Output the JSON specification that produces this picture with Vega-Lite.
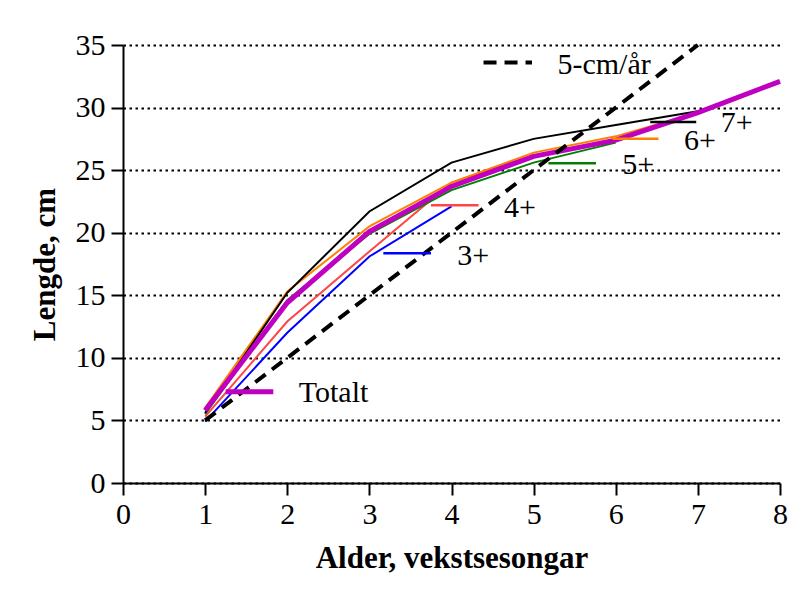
{
  "$schema": "https://vega.github.io/schema/vega-lite/v6.json",
  "width": 657,
  "height": 438,
  "autosize": {"type": "none"},
  "padding": {"left": 123, "top": 45, "right": 28, "bottom": 108},
  "background": "white",
  "config": {
    "view": {"stroke": null},
    "font": "Liberation Serif, Times New Roman, serif",
    "axis": {
      "domainColor": "black",
      "domainWidth": 2,
      "tickColor": "black",
      "tickWidth": 2,
      "tickSize": 12,
      "labelFlush": false,
      "labelFont": "Liberation Serif, Times New Roman, serif",
      "labelFontSize": 30,
      "labelColor": "black",
      "titleFont": "Liberation Serif, Times New Roman, serif",
      "titleFontSize": 31,
      "titleFontWeight": "bold",
      "titleColor": "black"
    }
  },
  "datasets": {
    "series": [
      {"grp": "3+", "alder": 1, "lengde": 4.9},
      {"grp": "3+", "alder": 2, "lengde": 12.0},
      {"grp": "3+", "alder": 3, "lengde": 18.1},
      {"grp": "3+", "alder": 4, "lengde": 22.1},
      {"grp": "4+", "alder": 1, "lengde": 5.3},
      {"grp": "4+", "alder": 2, "lengde": 12.9},
      {"grp": "4+", "alder": 3, "lengde": 18.5},
      {"grp": "4+", "alder": 4, "lengde": 24.0},
      {"grp": "4+", "alder": 5, "lengde": 26.2},
      {"grp": "5+", "alder": 1, "lengde": 5.5},
      {"grp": "5+", "alder": 2, "lengde": 14.6},
      {"grp": "5+", "alder": 3, "lengde": 19.9},
      {"grp": "5+", "alder": 4, "lengde": 23.4},
      {"grp": "5+", "alder": 5, "lengde": 25.6},
      {"grp": "5+", "alder": 6, "lengde": 27.2},
      {"grp": "6+", "alder": 1, "lengde": 6.0},
      {"grp": "6+", "alder": 2, "lengde": 15.3},
      {"grp": "6+", "alder": 3, "lengde": 20.5},
      {"grp": "6+", "alder": 4, "lengde": 24.0},
      {"grp": "6+", "alder": 5, "lengde": 26.4},
      {"grp": "6+", "alder": 6, "lengde": 27.7},
      {"grp": "6+", "alder": 7, "lengde": 29.6},
      {"grp": "7+", "alder": 1, "lengde": 5.6},
      {"grp": "7+", "alder": 2, "lengde": 15.2},
      {"grp": "7+", "alder": 3, "lengde": 21.7},
      {"grp": "7+", "alder": 4, "lengde": 25.6},
      {"grp": "7+", "alder": 5, "lengde": 27.5},
      {"grp": "7+", "alder": 6, "lengde": 28.6},
      {"grp": "7+", "alder": 7, "lengde": 29.7},
      {"grp": "Totalt", "alder": 1, "lengde": 5.8},
      {"grp": "Totalt", "alder": 2, "lengde": 14.4},
      {"grp": "Totalt", "alder": 3, "lengde": 20.1},
      {"grp": "Totalt", "alder": 4, "lengde": 23.7},
      {"grp": "Totalt", "alder": 5, "lengde": 26.1},
      {"grp": "Totalt", "alder": 6, "lengde": 27.4},
      {"grp": "Totalt", "alder": 7, "lengde": 29.6},
      {"grp": "Totalt", "alder": 8, "lengde": 32.1}
    ],
    "ref": [
      {"alder": 1, "lengde": 5},
      {"alder": 7, "lengde": 35}
    ],
    "marks": [
      {"grp": "3+", "x1": 3.17, "x2": 3.75, "y": 18.36, "tx": 4.07, "ty": 18.1},
      {"grp": "4+", "x1": 3.75, "x2": 4.33, "y": 22.2, "tx": 4.64, "ty": 22.0},
      {"grp": "5+", "x1": 5.18, "x2": 5.76, "y": 25.56, "tx": 6.08, "ty": 25.4},
      {"grp": "6+", "x1": 5.96, "x2": 6.52, "y": 27.5, "tx": 6.83, "ty": 27.3},
      {"grp": "7+", "x1": 6.42, "x2": 6.98, "y": 28.84, "tx": 7.28, "ty": 28.8},
      {"grp": "Totalt", "x1": 1.25, "x2": 1.83, "y": 7.29, "tx": 2.14, "ty": 7.2}
    ],
    "refmark": [
      {"x1": 4.39, "x2": 4.98, "y": 33.6, "tx": 5.29, "ty": 33.4, "lbl": "5-cm/år"}
    ]
  },
  "layer": [
    {
      "data": {"name": "series"},
      "transform": [{"filter": "datum.grp !== 'Totalt'"}],
      "mark": {"type": "line", "strokeWidth": 2},
      "encoding": {
        "x": {"field": "alder", "type": "quantitative",
              "scale": {"domain": [0, 8], "nice": false},
              "axis": {"values": [0,1,2,3,4,5,6,7,8], "format": "d", "grid": false, "title": "Alder, vekstsesongar", "labelPadding": 4, "titlePadding": 14}},
        "y": {"field": "lengde", "type": "quantitative",
              "scale": {"domain": [0, 35], "nice": false},
              "axis": {"values": [0,5,10,15,20,25,30,35], "format": "d", "grid": true, "gridColor": "black", "gridDash": [2.5, 3.5], "gridWidth": 2, "gridOpacity": 1, "title": "Lengde, cm", "labelPadding": 6, "titlePadding": 14}},
        "color": {"field": "grp", "type": "nominal", "legend": null,
                  "scale": {"domain": ["3+", "4+", "5+", "6+", "7+", "Totalt"],
                            "range": ["#0000ff", "#ff4545", "#008000", "#ff8000", "#000000", "#c000c0"]}},
        "order": {"field": "alder", "type": "quantitative"}
      }
    },
    {
      "data": {"name": "series"},
      "transform": [{"filter": "datum.grp === 'Totalt'"}],
      "mark": {"type": "line", "strokeWidth": 5},
      "encoding": {
        "x": {"field": "alder", "type": "quantitative"},
        "y": {"field": "lengde", "type": "quantitative"},
        "color": {"field": "grp", "type": "nominal", "legend": null}
      }
    },
    {
      "data": {"name": "ref"},
      "mark": {"type": "line", "strokeWidth": 4, "strokeDash": [13, 8], "color": "black"},
      "encoding": {
        "x": {"field": "alder", "type": "quantitative"},
        "y": {"field": "lengde", "type": "quantitative"}
      }
    },
    {
      "data": {"name": "marks"},
      "mark": {"type": "rule"},
      "encoding": {
        "x": {"field": "x1", "type": "quantitative"},
        "x2": {"field": "x2"},
        "y": {"field": "y", "type": "quantitative"},
        "color": {"field": "grp", "type": "nominal", "legend": null},
        "strokeWidth": {"condition": {"test": "datum.grp === 'Totalt'", "value": 5}, "value": 2.5}
      }
    },
    {
      "data": {"name": "marks"},
      "mark": {"type": "text", "align": "left", "baseline": "middle", "font": "Liberation Serif, Times New Roman, serif", "fontSize": 30, "color": "black"},
      "encoding": {
        "x": {"field": "tx", "type": "quantitative"},
        "y": {"field": "ty", "type": "quantitative"},
        "text": {"field": "grp"}
      }
    },
    {
      "data": {"name": "refmark"},
      "mark": {"type": "rule", "strokeWidth": 4, "strokeDash": [13, 8], "color": "black"},
      "encoding": {
        "x": {"field": "x1", "type": "quantitative"},
        "x2": {"field": "x2"},
        "y": {"field": "y", "type": "quantitative"}
      }
    },
    {
      "data": {"name": "refmark"},
      "mark": {"type": "text", "align": "left", "baseline": "middle", "font": "Liberation Serif, Times New Roman, serif", "fontSize": 30, "color": "black"},
      "encoding": {
        "x": {"field": "tx", "type": "quantitative"},
        "y": {"field": "ty", "type": "quantitative"},
        "text": {"field": "lbl"}
      }
    }
  ]
}
